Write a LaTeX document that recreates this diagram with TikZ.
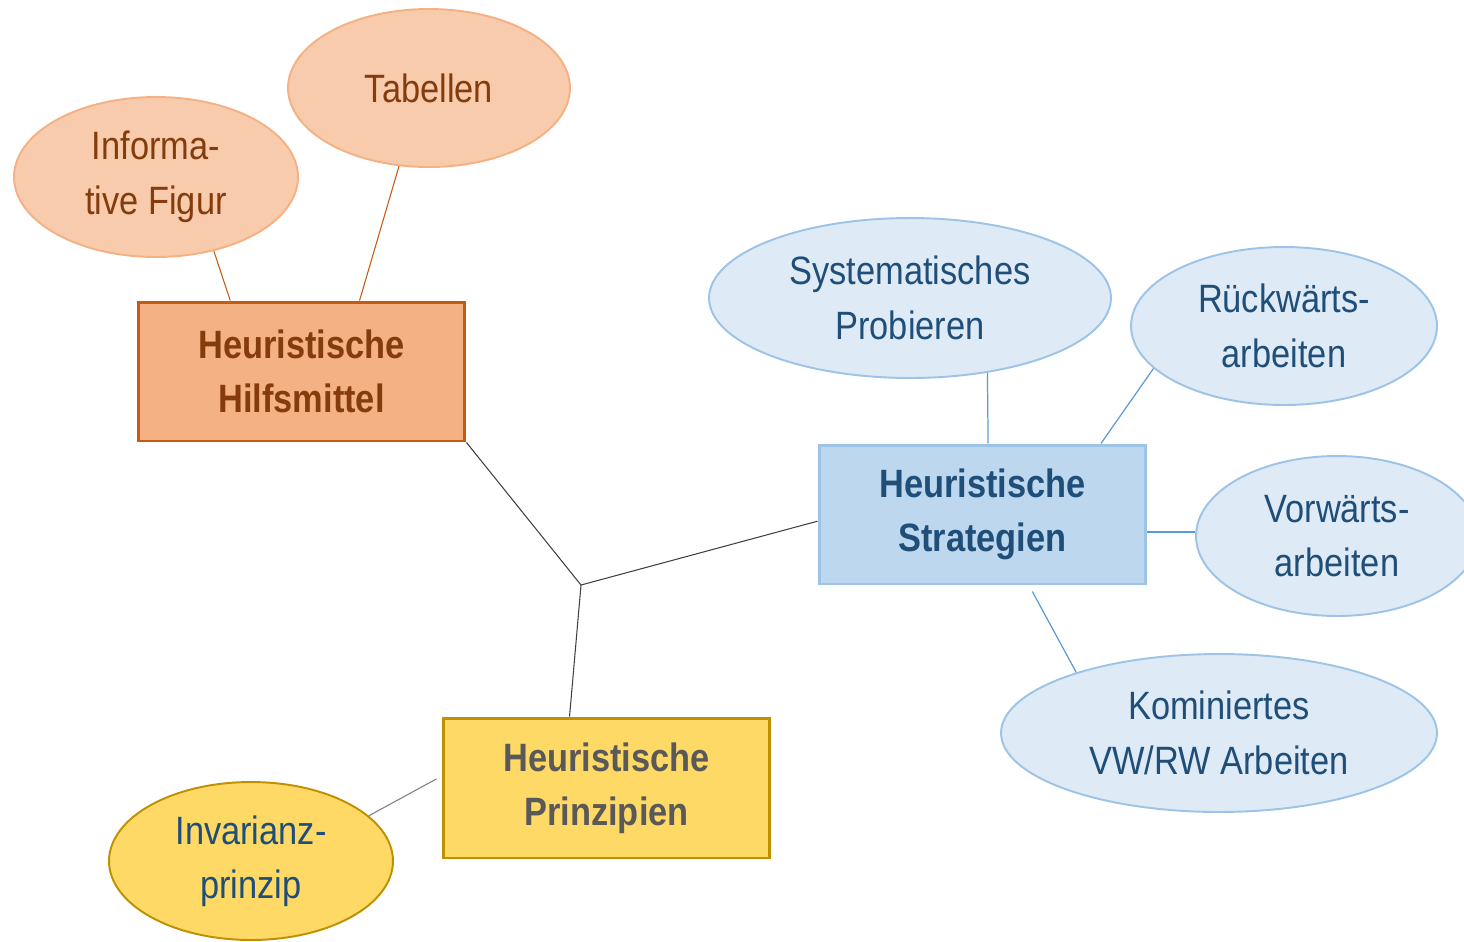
\documentclass[tikz,border=0pt]{standalone}
\usepackage{fontspec}
\setmainfont{Liberation Sans}[FakeStretch=0.87]
\usetikzlibrary{shapes.geometric,calc}
\definecolor{oBoxFill}{HTML}{F4B183}
\definecolor{oBoxLine}{HTML}{C55A11}
\definecolor{oText}{HTML}{843C0C}
\definecolor{oEllFill}{HTML}{F8CBAD}
\definecolor{bBoxFill}{HTML}{BDD7EE}
\definecolor{bBoxLine}{HTML}{9DC3E6}
\definecolor{bText}{HTML}{1F4E79}
\definecolor{bEllFill}{HTML}{DEEBF7}
\definecolor{bLink}{HTML}{5B9BD5}
\definecolor{yFill}{HTML}{FFD966}
\definecolor{yLine}{HTML}{BF9000}
\definecolor{yText}{HTML}{595959}
\definecolor{cLink}{HTML}{404040}
\definecolor{gLink}{HTML}{7F7F7F}
\tikzset{
  mainbox/.style={rectangle, inner sep=0pt, minimum width=6.54cm, minimum height=2.78cm,
    line width=1.7pt, align=center, font=\fontsize{22.5}{31}\selectfont\bfseries},
  bubble/.style={ellipse, inner sep=0pt, line width=1.1pt, align=center,
    font=\fontsize{22.5}{31}\selectfont},
  orangebox/.style={mainbox, fill=oBoxFill, draw=oBoxLine, text=oText},
  bluebox/.style={mainbox, fill=bBoxFill, draw=bBoxLine, text=bText},
  yellowbox/.style={mainbox, fill=yFill, draw=yLine, text=yText},
  orangebubble/.style={bubble, fill=oEllFill, draw=oBoxFill, text=oText},
  bluebubble/.style={bubble, fill=bEllFill, draw=bBoxLine, text=bText},
  yellowbubble/.style={bubble, fill=yFill, draw=yLine, text=bText},
  clink/.style={draw=cLink, line width=0.6pt},
  olink/.style={draw=oBoxLine, line width=0.6pt},
  blink/.style={draw=bLink, line width=0.7pt},
  glink/.style={draw=gLink, line width=0.6pt},
}
\begin{document}
\begin{tikzpicture}[x=0.02cm,y=-0.02cm]
\useasboundingbox (0,0) rectangle (1464,941);
\clip (0,0) rectangle (1464,941);
% main boxes
\node[orangebox] (hilf) at (301.5,371.5) {Heuristische\\Hilfsmittel};
\node[bluebox] (strat) at (982.5,514.5) {Heuristische\\Strategien};
\node[yellowbox, minimum height=2.8cm] (prinz) at (606.5,788) {Heuristische\\Prinzipien};
% bubbles
\node[orangebubble, minimum width=5.68cm, minimum height=3.2cm] (info) at (156,177) {Informa-\\tive Figur};
\node[orangebubble, minimum width=5.64cm, minimum height=3.16cm] (tab) at (429,88) {Tabellen};
\node[bluebubble, minimum width=8.04cm, minimum height=3.2cm] (sys) at (910,298) {Systematisches\\Probieren};
\node[bluebubble, minimum width=6.12cm, minimum height=3.16cm] (rue) at (1284,326) {Rückwärts-\\arbeiten};
\node[bluebubble, minimum width=5.64cm, minimum height=3.2cm] (vor) at (1337,536) {Vorwärts-\\arbeiten};
\node[bluebubble, minimum width=8.72cm, minimum height=3.16cm] (kom) at (1219,733) {Kominiertes\\VW/RW Arbeiten};
\node[yellowbubble, minimum width=5.68cm, minimum height=3.16cm] (inv) at (251,861) {Invarianz-\\prinzip};
% central junction
\coordinate (hub) at (581,585);
\draw[clink] (hilf.south east) -- (hub);
\draw[clink] (hub) -- ($(strat.north west)!0.547!(strat.south west)$);
\draw[clink] (hub) -- ($(prinz.north west)!0.388!(prinz.north east)$);
% orange links
\draw[olink] (info.-52) -- ($(hilf.north west)!0.284!(hilf.north east)$);
\draw[olink] (tab.249) -- ($(hilf.north west)!0.676!(hilf.north east)$);
% blue links
\draw[blink] (sys.-44) -- ($(strat.north west)!0.517!(strat.north east)$);
\draw[blink] (rue.198) -- ($(strat.north west)!0.859!(strat.north east)$);
\coordinate (vstart) at ($(strat.north east)!0.62!(strat.south east)$);
\draw[blink, line width=1.1pt] (vstart) -- (vstart -| vor.west);
\draw[blink] ([yshift=-6*0.02cm]$(strat.south west)!0.651!(strat.south east)$) -- (kom.157);
% invarianz link
\draw[glink] (inv.21) -- ([xshift=-5*0.02cm]$(prinz.north west)!0.436!(prinz.south west)$);
\end{tikzpicture}
\end{document}
